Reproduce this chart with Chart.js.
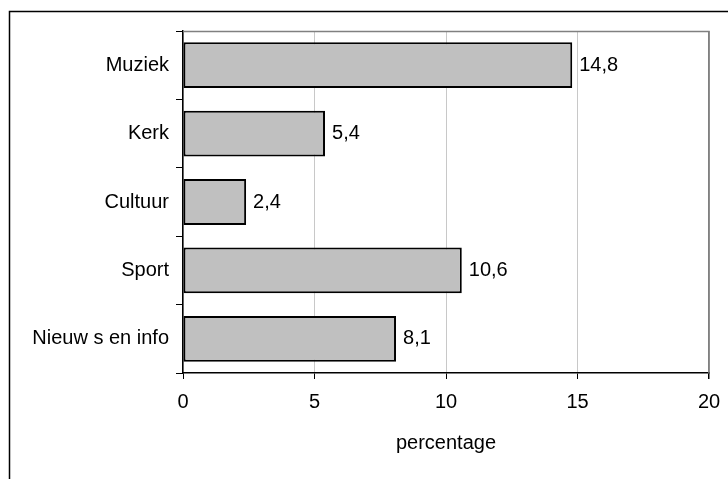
<!DOCTYPE html>
<html>
<head>
<meta charset="utf-8">
<script src="https://cdn.jsdelivr.net/npm/chart.js@4"></script>
<style>
  html, body { margin: 0; padding: 0; background: #fff; }
  #wrap { width: 728px; height: 479px; }
</style>
</head>
<body>
<div id="wrap"><canvas id="mediaChart" width="728" height="479"></canvas></div>
<script>
const categories = ['Muziek', 'Kerk', 'Cultuur', 'Sport', 'Nieuw s en info'];
const percentages = [14.8, 5.4, 2.4, 10.6, 8.1];
const xTicks = [0, 5, 10, 15, 20];

const FONT = { family: 'Arial, "Liberation Sans", sans-serif', size: 20 };

// outer frame + grey top edge of the plot
const framePlugin = {
    id: 'frame',
    beforeDraw(chart) {
        const c = chart.ctx;
        c.save();
        c.fillStyle = '#fff';
        c.fillRect(0, 0, chart.width, chart.height);
        c.strokeStyle = '#000';
        c.lineWidth = 1.5;
        c.beginPath();
        c.moveTo(9.5, chart.height);
        c.lineTo(9.5, 11.5);
        c.lineTo(chart.width, 11.5);
        c.stroke();
        c.restore();
    },
    afterDatasetsDraw(chart) {
        const a = chart.chartArea;
        const c = chart.ctx;
        c.save();
        c.strokeStyle = '#808080';
        c.lineWidth = 1.5;
        c.beginPath();
        c.moveTo(a.left, a.top + 0.5);
        c.lineTo(a.right, a.top + 0.5);
        c.lineTo(a.right, a.bottom);
        c.stroke();
        c.restore();
    }
};

// value labels at the end of each bar
const valueLabels = {
    id: 'valueLabels',
    afterDatasetsDraw(chart) {
        const c = chart.ctx;
        const meta = chart.getDatasetMeta(0);
        c.save();
        c.font = FONT.size + 'px ' + FONT.family;
        c.fillStyle = '#000';
        c.textAlign = 'left';
        c.textBaseline = 'middle';
        meta.data.forEach((bar, i) => {
            const txt = percentages[i].toFixed(1).replace('.', ',');
            c.fillText(txt, bar.x + 7, bar.y);
        });
        c.restore();
    }
};

const ctx = document.getElementById('mediaChart').getContext('2d');
const mediaChart = new Chart(ctx, {
    type: 'bar',
    data: {
        labels: categories,
        datasets: [{
            data: percentages,
            backgroundColor: '#c0c0c0',
            borderColor: '#000',
            borderWidth: 2,
            borderSkipped: false,
            barPercentage: 0.67,
            categoryPercentage: 1
        }]
    },
    options: {
        indexAxis: 'y',
        responsive: false,
        animation: false,
        devicePixelRatio: 1,
        layout: { padding: { top: 31, right: 19, left: 0, bottom: 0 } },
        plugins: {
            legend: { display: false },
            tooltip: { enabled: false }
        },
        scales: {
            x: {
                min: 0,
                max: 20,
                afterBuildTicks(scale) {
                    scale.ticks = xTicks.map(v => ({ value: v }));
                },
                afterFit(scale) {
                    scale.height = 106;
                    scale.paddingLeft = 0;
                    scale.paddingRight = 0;
                },
                grid: {
                    color: c => c.tick && c.tick.value === 20 ? '#808080' : '#c8c8c8',
                    lineWidth: c => c.tick && c.tick.value === 20 ? 1.5 : 1,
                    tickColor: '#000',
                    tickLength: 6
                },
                border: { color: '#000', width: 1.5 },
                ticks: { color: '#000', font: FONT, padding: 11 },
                title: {
                    display: true,
                    text: 'percentage',
                    color: '#000',
                    font: FONT,
                    padding: { top: 0, bottom: 24 }
                }
            },
            y: {
                afterFit(scale) { scale.width = 183; },
                grid: {
                    drawOnChartArea: false,
                    offset: true,
                    tickColor: '#000',
                    tickLength: 7
                },
                border: { color: '#000', width: 1.5 },
                ticks: { color: '#000', font: FONT, padding: 7 }
            }
        }
    },
    plugins: [framePlugin, valueLabels]
});
</script>
</body>
</html>
